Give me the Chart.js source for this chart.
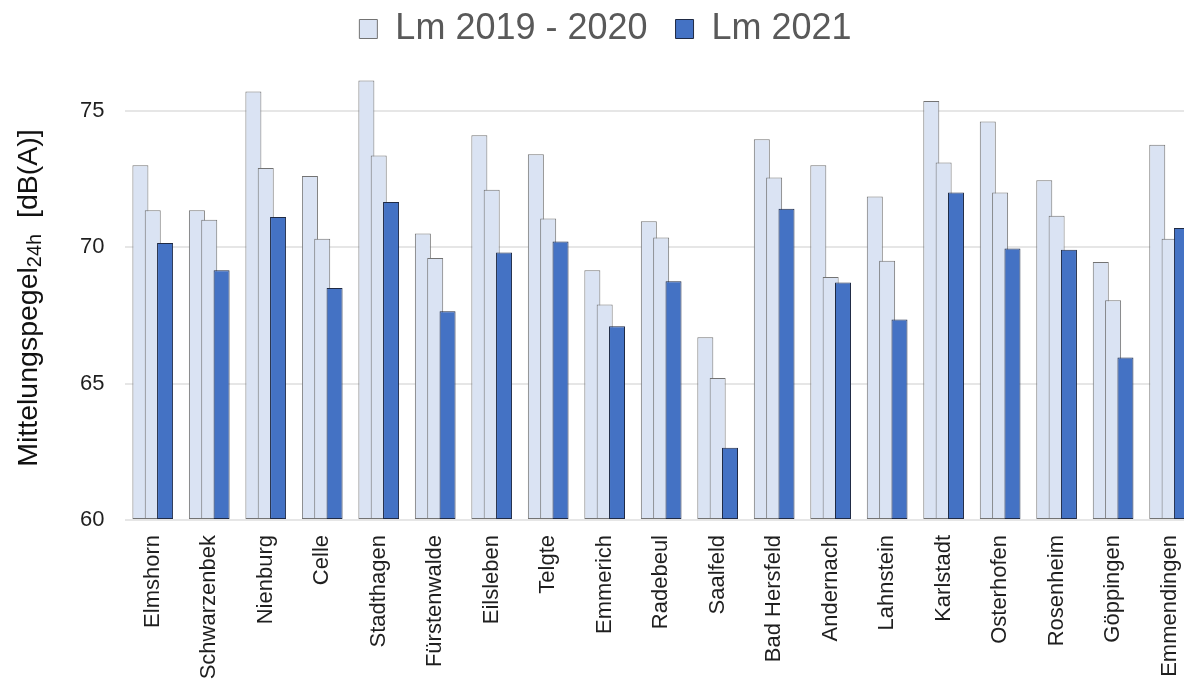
<!DOCTYPE html>
<html><head><meta charset="utf-8">
<script src="https://cdn.jsdelivr.net/npm/chart.js@4"></script>
<style>html,body{margin:0;padding:0;background:#fff;overflow:hidden;} #wrap{width:1211px;height:679px;}</style>
</head><body><div id="wrap"><canvas id="c" width="1211" height="679"></canvas></div>
<script>
const categories = ['Elmshorn','Schwarzenbek','Nienburg','Celle','Stadthagen','Fürstenwalde','Eilsleben','Telgte','Emmerich','Radebeul','Saalfeld','Bad Hersfeld','Andernach','Lahnstein','Karlstadt','Osterhofen','Rosenheim','Göppingen','Emmendingen'];
const lm2019 = [73.0, 71.35, 75.7, 72.6, 76.1, 70.5, 74.1, 73.4, 69.15, 70.95, 66.7, 73.95, 73.0, 71.85, 75.35, 74.6, 72.45, 69.45, 73.75];
const lm2020 = [71.35, 71.0, 72.9, 70.3, 73.35, 69.6, 72.1, 71.05, 67.9, 70.35, 65.2, 72.55, 68.9, 69.5, 73.1, 72.0, 71.15, 68.05, 70.3];
const lm2021 = [70.15, 69.15, 71.1, 68.5, 71.65, 67.65, 69.8, 70.2, 67.1, 68.75, 62.65, 71.4, 68.7, 67.35, 72.0, 69.95, 69.9, 65.95, 70.7];
const yTicks = [60, 65, 70, 75];
const legendLabels = ['Lm 2019 - 2020', 'Lm 2020', 'Lm 2021'];
const yTitleMain = 'Mittelungspegel';
const yTitleSub = '24h';
const yTitleUnit = '  [dB(A)]';

const FONT = "'Liberation Sans', Arial, sans-serif";
const LIGHT = '#DAE3F3', LIGHT_BORDER = '#737373';
const DARK = '#4472C4', DARK_BORDER = '#1f2a44';

const drawOrderPlugin = {
  id: 'drawOrder',
  beforeDatasetsDraw(chart) {
    const metas = chart.getSortedVisibleDatasetMetas();
    for (const m of metas) m.controller.draw();
    return false;
  }
};
const legendPosPlugin = {
  id: 'legendPos',
  beforeInit(chart) {
    const lg = chart.legend;
    const orig = lg.fit;
    lg.fit = function () { orig.call(this); this.height = 56; };
  },
  afterLayout(chart) {
    chart.legend.top -= 17;
  }
};
const yTitlePlugin = {
  id: 'yTitle',
  afterDraw(chart) {
    const ctx = chart.ctx;
    ctx.save();
    const mainF = '28.5px ' + FONT, subF = '20px ' + FONT;
    ctx.font = mainF;
    const w1 = ctx.measureText(yTitleMain).width;
    const w3 = ctx.measureText(yTitleUnit).width;
    ctx.font = subF;
    const w2 = ctx.measureText(yTitleSub).width;
    const total = w1 + w2 + w3;
    const cy = (chart.chartArea.top + chart.chartArea.bottom) / 2 + 10;
    ctx.translate(37, cy + total / 2);
    ctx.rotate(-Math.PI / 2);
    ctx.fillStyle = '#111';
    ctx.textBaseline = 'alphabetic';
    ctx.textAlign = 'left';
    ctx.font = mainF; ctx.fillText(yTitleMain, 0, 0);
    ctx.font = subF; ctx.fillText(yTitleSub, w1, 4);
    ctx.font = mainF; ctx.fillText(yTitleUnit, w1 + w2, 0);
    ctx.restore();
  }
};

const mk = (label, data, bg, bd) => ({
  label, data, backgroundColor: bg, borderColor: bd, borderWidth: 1, borderSkipped: false,
  base: yTicks[0],
  categoryPercentage: 0.6555, barPercentage: 1.296
});

new Chart(document.getElementById('c'), {
  type: 'bar',
  data: {
    labels: categories,
    datasets: [
      mk(legendLabels[0], lm2019, LIGHT, LIGHT_BORDER),
      mk(legendLabels[1], lm2020, LIGHT, LIGHT_BORDER),
      mk(legendLabels[2], lm2021, DARK, DARK_BORDER)
    ]
  },
  options: {
    responsive: false,
    animation: false,
    devicePixelRatio: 1,
    layout: { padding: 0 },
    plugins: {
      tooltip: { enabled: false },
      legend: {
        position: 'top',
        labels: {
          filter: (item) => item.datasetIndex !== 1,
          font: { family: FONT, size: 36 },
          color: '#595959',
          boxWidth: 18,
          boxHeight: 19,
          padding: 28
        }
      }
    },
    scales: {
      x: {
        grid: { display: false, drawTicks: false },
        border: { display: false },
        ticks: {
          autoSkip: false, minRotation: 90, maxRotation: 90,
          font: { family: FONT, size: 22 }, color: '#1f1f1f', padding: 15
        },
        afterFit(s) { s.height = 159; }
      },
      y: {
        min: 60, max: 77, beginAtZero: false,
        grid: { color: '#e6e6e6', lineWidth: 2, drawTicks: false },
        border: { display: false },
        ticks: { font: { family: FONT, size: 22 }, color: '#1f1f1f', padding: 20 },
        afterBuildTicks(s) { s.ticks = yTicks.map(v => ({ value: v })); },
        afterFit(s) { s.width = 124.5; }
      }
    }
  },
  plugins: [drawOrderPlugin, legendPosPlugin, yTitlePlugin]
});
</script>
</body></html>
